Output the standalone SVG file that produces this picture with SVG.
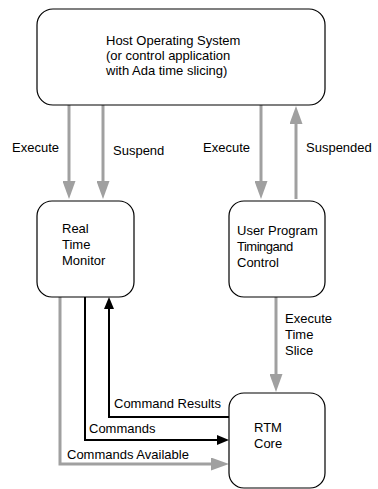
<svg xmlns="http://www.w3.org/2000/svg" width="378" height="489" viewBox="0 0 378 489">
  <style>
    .box { fill: #ffffff; stroke: #000000; stroke-width: 1.2; }
    .lbl { font-family: "Liberation Sans", Arial, sans-serif; font-size: 13px; fill: #000000; }
    .gray { fill: none; stroke: #a0a0a0; stroke-width: 3; }
    .blk { fill: none; stroke: #000000; stroke-width: 2; }
  </style>
  <defs>
    <!-- arrowheads start at the line end and extend forward -->
    <marker id="gh" markerUnits="userSpaceOnUse" markerWidth="18" markerHeight="13" refX="0" refY="6.5" orient="auto" viewBox="0 0 18 13">
      <path d="M0,0 L18,6.5 L0,13 Z" fill="#a0a0a0"/>
    </marker>
    <marker id="bh" markerUnits="userSpaceOnUse" markerWidth="12" markerHeight="10" refX="0" refY="5" orient="auto" viewBox="0 0 12 10">
      <path d="M0,0 L12,5 L0,10 Z" fill="#000000"/>
    </marker>
  </defs>

  <g id="connectors">
    <!-- host to monitor -->
    <line class="gray" x1="69" y1="105" x2="69" y2="181" marker-end="url(#gh)"/>
    <line class="gray" x1="103" y1="105" x2="103" y2="181" marker-end="url(#gh)"/>
    <!-- host to user program and back -->
    <line class="gray" x1="261" y1="105" x2="261" y2="181" marker-end="url(#gh)"/>
    <line class="gray" x1="296" y1="199" x2="296" y2="124" marker-end="url(#gh)"/>
    <!-- user program to core -->
    <line class="gray" x1="276" y1="297" x2="276" y2="374" marker-end="url(#gh)"/>
    <!-- monitor to core -->
    <polyline class="gray" points="60,297 60,464 211,464" marker-end="url(#gh)"/>
    <polyline class="blk" points="85,297 85,440 217,440" marker-end="url(#bh)"/>
    <polyline class="blk" points="229,417 109,417 109,309" marker-end="url(#bh)"/>
  </g>

  <g id="host">
    <rect class="box" x="37" y="9" width="288" height="96" rx="16"/>
    <text class="lbl" x="106" y="45">Host Operating System</text>
    <text class="lbl" x="106" y="60">(or control application</text>
    <text class="lbl" x="106" y="75">with Ada time slicing)</text>
  </g>

  <g id="monitor">
    <rect class="box" x="37" y="201" width="97" height="96" rx="15"/>
    <text class="lbl" x="62" y="233">Real</text>
    <text class="lbl" x="62" y="249">Time</text>
    <text class="lbl" x="62" y="265">Monitor</text>
  </g>

  <g id="userprog">
    <rect class="box" x="229" y="201" width="96" height="96" rx="15"/>
    <text class="lbl" x="237" y="235">User Program</text>
    <text class="lbl" x="237" y="251" letter-spacing="-0.5">Timingand</text>
    <text class="lbl" x="237" y="267">Control</text>
  </g>

  <g id="core">
    <rect class="box" x="229" y="393" width="96" height="95" rx="15"/>
    <text class="lbl" x="254" y="432">RTM</text>
    <text class="lbl" x="254" y="448">Core</text>
  </g>

  <g id="labels">
    <text class="lbl" x="12" y="152">Execute</text>
    <text class="lbl" x="113" y="155">Suspend</text>
    <text class="lbl" x="203" y="152">Execute</text>
    <text class="lbl" x="306" y="152">Suspended</text>
    <text class="lbl" x="285" y="323">Execute</text>
    <text class="lbl" x="285" y="339">Time</text>
    <text class="lbl" x="285" y="355">Slice</text>
    <text class="lbl" x="114" y="408">Command Results</text>
    <text class="lbl" x="89" y="433">Commands</text>
    <text class="lbl" x="67" y="459">Commands Available</text>
  </g>
</svg>
